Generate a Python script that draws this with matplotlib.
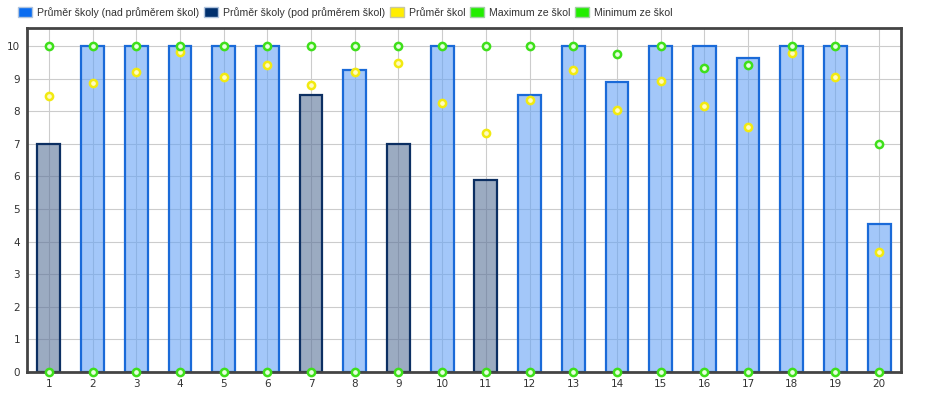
import matplotlib
matplotlib.use("Agg")
import matplotlib.pyplot as plt
from matplotlib.patches import Patch

categories = list(range(1, 21))
school_avg = [7, 10, 10, 10, 10, 10, 8.5, 9.25, 7, 10, 5.88, 8.5, 10, 8.88, 10, 10, 9.63, 10, 10, 4.55]
below_avg = [True, False, False, False, False, False, True, False, True, False,
             True, False, False, False, False, False, False, False, False, False]
schools_avg = [8.47, 8.87, 9.21, 9.81, 9.04, 9.43, 8.81, 9.19, 9.47, 8.24,
               7.34, 8.35, 9.26, 8.02, 8.92, 8.16, 7.5, 9.77, 9.04, 3.69]
schools_max = [10, 10, 10, 10, 10, 10, 10, 10, 10, 10,
               10, 10, 10, 9.75, 10, 9.33, 9.4, 10, 10, 7]
schools_min = [0] * 20
legend_labels = ["Průměr školy (nad průměrem škol)", "Průměr školy (pod průměrem škol)",
                 "Průměr škol", "Maximum ze škol", "Minimum ze škol"]

plt.rcParams['font.family'] = ['DejaVu Sans']
fig = plt.figure(figsize=(9.37, 3.97), dpi=100)
ax = fig.add_axes([27/937, 1 - 372/397, (901-27)/937, (372-28)/397])

light_fill = (0.40, 0.64, 0.96, 0.6)
light_edge = "#1a6ad8"
dark_fill = (0.35, 0.45, 0.6, 0.6)
dark_edge = "#0c2f62"

fills = [dark_fill if b else light_fill for b in below_avg]
edges = [dark_edge if b else light_edge for b in below_avg]
ax.bar(categories, school_avg, width=0.52, color=fills, edgecolor=edges, linewidth=1.6, zorder=2)

mk = dict(linestyle="none", marker="o", markersize=5.2, markeredgewidth=1.8)
ax.plot(categories, schools_avg, markerfacecolor="#fffbc0", markeredgecolor="#f2ea10", zorder=4, **mk)
ax.plot(categories, schools_max, markerfacecolor="#e8ffe0", markeredgecolor="#3ee01a", zorder=5, **mk)
ax.plot(categories, schools_min, markerfacecolor="#e8ffe0", markeredgecolor="#3ee01a", zorder=5,
        clip_on=False, **mk)

ax.set_xlim(0.5, 20.5)
ax.set_ylim(0, 10.55)
ax.set_xticks(categories)
ax.set_xticklabels([str(c) for c in categories])
ax.set_yticks(range(0, 11))
ax.tick_params(length=0, labelsize=7.5, colors="#333333", pad=5)
ax.grid(True, color="#cccccc", linewidth=0.8, zorder=0)
ax.set_axisbelow(True)
for s in ax.spines.values():
    s.set_color("#444444")
    s.set_linewidth(2)

handles = [
    Patch(facecolor="#0a6cf0", edgecolor="#b0c4de", linewidth=1),
    Patch(facecolor="#00306e", edgecolor="#b0c4de", linewidth=1),
    Patch(facecolor="#ffee00", edgecolor="#c8c8a0", linewidth=1),
    Patch(facecolor="#22ee00", edgecolor="#a0d0a0", linewidth=1),
    Patch(facecolor="#22ee00", edgecolor="#a0d0a0", linewidth=1),
]
fig.legend(handles, legend_labels, loc="upper left", bbox_to_anchor=(0.009, 1.007),
           ncol=5, frameon=False, handlelength=1.35, handleheight=1.15,
           handletextpad=0.45, columnspacing=0.45, labelcolor="#333333",
           prop={"family": "Liberation Sans", "size": 7.6})

fig.savefig("out.png", dpi=100)
